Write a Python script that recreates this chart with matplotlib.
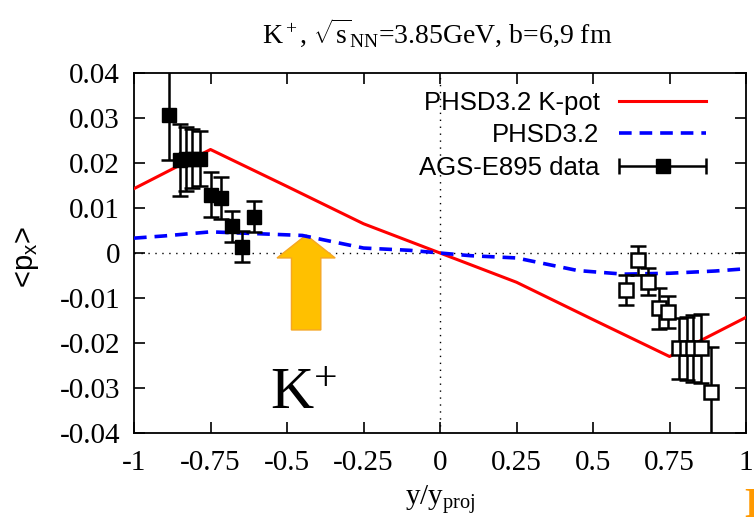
import matplotlib
matplotlib.use("Agg")
import matplotlib.pyplot as plt
from matplotlib.legend_handler import HandlerErrorbar
import numpy as np

plt.rcParams['axes.unicode_minus'] = False
plt.rcParams['mathtext.fontset'] = 'custom'
plt.rcParams['mathtext.rm'] = 'Liberation Serif'
plt.rcParams['mathtext.it'] = 'Liberation Serif:italic'
plt.rcParams['mathtext.sf'] = 'Liberation Sans'

# ---- data ----
kpot_x = [-1.0, -0.75, -0.5, -0.25, 0.0, 0.25, 0.5, 0.75, 1.0]
kpot_y = [0.0143, 0.0230, 0.0148, 0.0065, 0.0, -0.0065, -0.0148, -0.0230, -0.0143]

phsd_x = [-1.0, -0.9, -0.75, -0.6, -0.45, -0.35, -0.25, -0.1, 0.0,
          0.1, 0.25, 0.35, 0.45, 0.6, 0.75, 0.9, 1.0]
phsd_y = [0.0033, 0.0038, 0.0047, 0.0043, 0.0039, 0.0025, 0.0011, 0.0006, 0.0,
          -0.0006, -0.0011, -0.0025, -0.0039, -0.0047, -0.0045, -0.0040, -0.0035]

left_x = [-0.885, -0.851, -0.831, -0.810, -0.783, -0.749, -0.717, -0.679, -0.646, -0.608]
left_y = [0.0306, 0.0207, 0.0209, 0.0210, 0.0210, 0.0129, 0.0122, 0.0059, 0.0014, 0.0081]
left_err = [0.0100, 0.0080, 0.0072, 0.0066, 0.0062, 0.0050, 0.0047, 0.0034, 0.0034, 0.0034]

right_x = [0.608, 0.646, 0.679, 0.717, 0.746, 0.781, 0.806, 0.828, 0.853, 0.886]
right_y = [-0.0082, -0.0016, -0.0064, -0.0123, -0.0131, -0.0212, -0.0212, -0.0212, -0.0212, -0.0308]
right_err = [0.0034, 0.0032, 0.0030, 0.0045, 0.0035, 0.0068, 0.0070, 0.0075, 0.0077, 0.0100]

x_ticks = [-1, -0.75, -0.5, -0.25, 0, 0.25, 0.5, 0.75, 1]
x_ticklabels = ['-1', '-0.75', '-0.5', '-0.25', '0', '0.25', '0.5', '0.75', '1']
y_ticks = [-0.04, -0.03, -0.02, -0.01, 0, 0.01, 0.02, 0.03, 0.04]
y_ticklabels = ['-0.04', '-0.03', '-0.02', '-0.01', '0', '0.01', '0.02', '0.03', '0.04']

labels = ['PHSD3.2 K-pot', 'PHSD3.2', 'AGS-E895 data']

# arrow annotation (data coords)
arrow_x = -0.4375
arrow_tip = 0.0040
arrow_head_base = -0.0011
arrow_tail = -0.0171
arrow_head_half = 0.095
arrow_shaft_half = 0.048

# ---- figure ----
fig = plt.figure(figsize=(7.54, 5.25), dpi=100)
ax = fig.add_axes([134/754, 1-433/525, (746-134)/754, (433-73)/525])

ax.axhline(0, color='black', lw=1.0, ls=(0, (1, 4)), zorder=1)
ax.axvline(0, color='black', lw=1.0, ls=(0, (1, 4)), zorder=1)

ax_poly_x = [arrow_x - arrow_shaft_half, arrow_x - arrow_shaft_half, arrow_x - arrow_head_half,
             arrow_x, arrow_x + arrow_head_half, arrow_x + arrow_shaft_half, arrow_x + arrow_shaft_half]
ax_poly_y = [arrow_tail, arrow_head_base, arrow_head_base, arrow_tip, arrow_head_base,
             arrow_head_base, arrow_tail]
ax.fill(ax_poly_x, ax_poly_y, facecolor='#FFC000', edgecolor='#F5A623', lw=1.0, zorder=2)

l1, = ax.plot(kpot_x, kpot_y, color='#FF0000', lw=2.2, zorder=3, label=labels[0])
l2, = ax.plot(phsd_x, phsd_y, color='#0000FF', lw=2.6, ls=(0, (3.5, 2.2)), zorder=3, label=labels[1])

ax.errorbar(left_x, left_y, yerr=left_err, fmt='s', color='black', ms=10,
            mfc='black', mec='black', ecolor='black', elinewidth=1.8, capsize=6,
            capthick=1.8, zorder=4)
ax.errorbar(right_x, right_y, yerr=right_err, fmt='s', color='black', ms=10,
            mfc='white', mec='black', mew=1.8, ecolor='black', elinewidth=1.8, capsize=6,
            capthick=1.8, zorder=4)

# legend proxy: horizontal error bar with filled square (drawn nowhere)
proxy = ax.errorbar([np.nan], [np.nan], xerr=[[0.0], [0.0]], fmt='s', color='black', ms=10,
                    mfc='black', mec='black', ecolor='black', elinewidth=1.8, capsize=6,
                    capthick=1.8)

ax.set_xlim(-1, 1)
ax.set_ylim(-0.04, 0.04)
ax.set_xticks(x_ticks)
ax.set_xticklabels(x_ticklabels)
ax.set_yticks(y_ticks)
ax.set_yticklabels(y_ticklabels)
ax.tick_params(direction='in', length=8, width=1.2, top=True, right=True,
               labelsize=21, pad=10)
ax.tick_params(axis='x', pad=12)
for lab in ax.get_xticklabels() + ax.get_yticklabels():
    lab.set_family('Liberation Serif')
for s in ax.spines.values():
    s.set_linewidth(1.3)

ax.set_xlabel('y/y$_\\mathrm{proj}$', fontsize=21, family='Liberation Serif')
ax.xaxis.set_label_coords(0.5, (433-500)/360)
ax.xaxis.label.set_va('center')
ax.set_ylabel('<p$_\\mathsf{x}$>', fontsize=21, family='Liberation Sans')
ax.yaxis.set_label_coords((27-134)/612, (433-257)/360)
ax.yaxis.label.set_va('center')

leg = ax.legend(handles=[l1, l2, proxy], labels=labels, loc='upper right',
                bbox_to_anchor=(0.935, 0.95), frameon=False, markerfirst=False,
                prop={'family': 'Liberation Sans', 'size': 18.5},
                handlelength=3.4, handletextpad=0.75, labelspacing=0.33,
                borderaxespad=0, borderpad=0,
                handler_map={proxy: HandlerErrorbar(xerr_size=1.7)})

fig.text(437/754, 1-33/525, 'K$^+$, $\\sqrt{\\mathrm{s}}_\\mathrm{NN}$=3.85GeV, b=6,9 fm',
         ha='center', va='center', fontsize=20, family='Liberation Serif')

fig.text(270/754, 1-410/525, 'K$^{+}$', ha='left', va='baseline', fontsize=43,
         family='Liberation Serif')

fig.text(744/754, 1-488/525, 'D', ha='left', va='top', fontsize=30, fontweight='bold',
         color='#FF9900', family='Liberation Serif')

fig.savefig('out.png', dpi=100)
